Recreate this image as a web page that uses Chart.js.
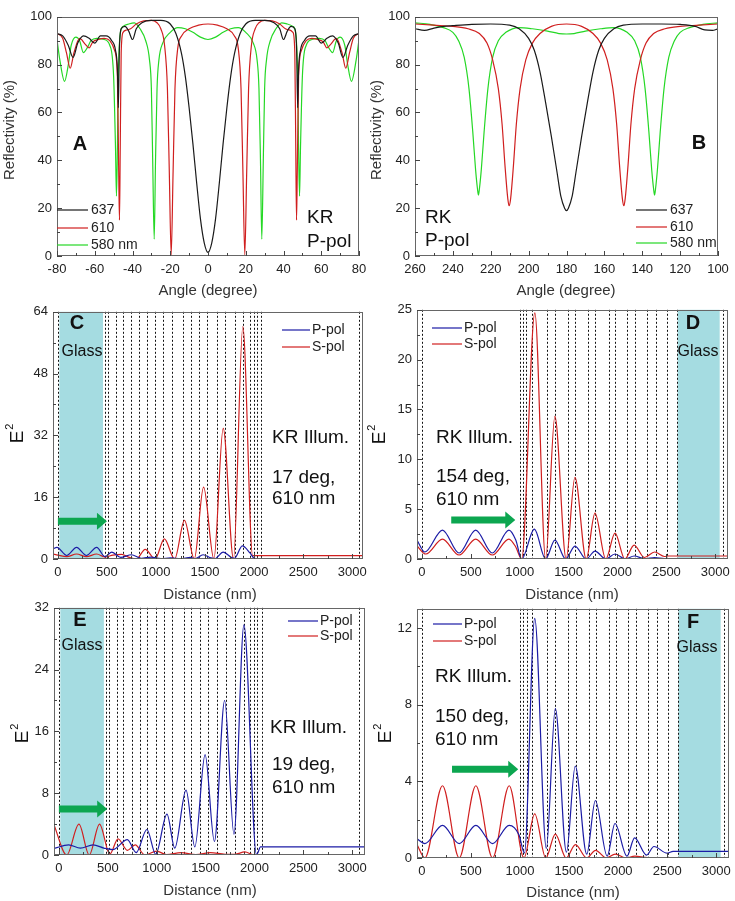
<!DOCTYPE html>
<html>
<head>
<meta charset="utf-8">
<script src="https://cdn.jsdelivr.net/npm/chart.js@4.4.0/dist/chart.umd.min.js"></script>
<style>
  html, body { margin: 0; padding: 0; background: #fff; }
  #wrap { position: relative; width: 735px; height: 901px; overflow: hidden; background: #fff; }
  canvas { position: absolute; }
</style>
</head>
<body>
<div id="wrap"></div>
<script>
// ---- tick labels ----
const aXTicks = [-80, -60, -40, -20, 0, 20, 40, 60, 80];
const bXTicks = [100, 120, 140, 160, 180, 200, 220, 240, 260];
const pctTicks = [0, 20, 40, 60, 80, 100];
const distTicks = [0, 500, 1000, 1500, 2000, 2500, 3000];
const cYTicks = [0, 16, 32, 48, 64];
const dYTicks = [0, 5, 10, 15, 20, 25];
const eYTicks = [0, 8, 16, 24, 32];
const fYTicks = [0, 4, 8, 12];

// ---- layer boundaries (nm) and glass ----
const krLayers = [0, 480, 510, 595, 660, 750, 830, 905, 990, 1075, 1160, 1280, 1355, 1440, 1520, 1620, 1705, 1805, 1890, 1955, 1995, 2030, 2075, 3065];
const rkLayers = [0, 999, 1030, 1067, 1125, 1278, 1357, 1493, 1568, 1698, 1773, 1909, 1977, 2097, 2182, 2301, 2393, 2506, 2608, 3075];
const krGlass = [15, 460];
const rkGlass = [2615, 3045];

// ---- A: KR reflectivity vs angle ----
const a637x = [-80,-77,-74,-71.5,-69,-66,-63,-60,-57,-54,-51,-49,-48,-47.5,-47,-46,-44,-42,-40,-38,-35,-30,-25,-20,-17,-14,-12,-10,-8,-6,-4,-2,0,
  2,4,6,8,10,12,14,17,20,25,30,35,38,40,42,44,46,47,47.5,48,49,51,54,57,60,63,66,69,71.5,74,77,80];
const a637y = [93,92,88,83,89,92,91,89,92,92,90,86,78,62,85,95,96,94,90.5,95,97.5,98.5,98.5,97,93,84.5,75,62,47,30.5,15.5,5.5,1.5,
  5.5,15.5,30.5,47,62,75,84.5,93,97,98.5,98.5,97.5,95,90.5,94,96,95,85,62,78,86,90,92,92,89,91,92,89,83,88,92,93];
const a610x = [-80,-77,-75,-73,-71,-68,-65,-63,-61,-58,-55,-52,-49.5,-48,-47.3,-46.9,-46.5,-46,-45,-43,-41,-38,-34,-30,-27,-25,-23,-21.5,-20.5,-19.5,-18.5,-17.5,-16,-14,-10,-5,0,
  5,10,14,16,17.5,18.5,19.5,20.5,21.5,23,25,27,30,34,38,41,43,45,46,46.5,46.9,47.3,48,49.5,52,55,58,61,63,65,68,71,73,75,77,80];
const a610y = [93,91,85,78.5,85,91,88.5,87,89.5,90.5,91,90,86,75,35,15,45,85,93.5,94.5,95,97,98.3,98.5,97.5,95,88,70,35,0.5,35,70,87,92,95,96.5,97,
  96.5,95,92,87,70,35,0.5,35,70,88,95,97.5,98.5,98.3,97,95,94.5,93.5,85,45,15,35,75,86,90,91,90.5,89.5,87,88.5,91,85,78.5,85,91,93];
const a580x = [-80,-78.5,-76,-74,-72.5,-70,-68,-66,-64,-62,-59,-55,-52,-50,-49,-48.5,-48,-47.5,-46.5,-45,-42,-39,-36,-33,-31,-30,-29.3,-28.5,-27.8,-27,-26,-24,-20,-16,-12,-8,-4,0,
  4,8,12,16,20,24,26,27,27.8,28.5,29.3,30,31,33,36,39,42,45,46.5,47.5,48,48.5,49,50,52,55,59,62,64,66,68,70,72.5,74,76,78.5,80];
const a580y = [90.5,82,73,80,88,91.5,90,85,87,90,91,90.5,88,75,45,25,45,75,93,96,97,97.5,95,90,82,70,40,7,40,70,82,89,93.5,95.5,95,93.5,91.5,90.5,
  91.5,93.5,95,95.5,93.5,89,82,70,40,7,40,70,82,90,95,97.5,97,96,93,75,45,25,45,75,88,90.5,91,90,87,85,90,91.5,88,80,73,82,90.5];

// ---- B: RK reflectivity vs angle ----
const b637x = [260,255,250,245,240,230,220,210,205,200,197,194,191,188,185,183,181,180,179,177,175,172,169,166,163,160,155,150,140,130,120,112,107,103,100];
const b637y = [95,94.3,95.3,96,96.3,96.8,97,96.5,95,91,86,77,64,50,35,25,20,19,20,25,35,50,64,77,86,91,95,96.5,97,97,96.8,96,94.5,94.3,95];
const b610x = [260,250,240,232,226,222,219,216,214,212.5,211,210.3,209.5,208,206.5,204.5,201.5,198,194,188,180,172,166,162,158.5,155.5,153.5,152,150.5,149.7,149,147.5,146,144,141,138,134,128,120,110,100];
const b610y = [97,96.5,96,95,93,89,82,70,55,38,24,21,24,38,55,70,82,89,93,96,97,96,93,89,82,70,55,38,24,21,24,38,55,70,82,89,93,95,96,96.5,97];
const b580x = [260,252,245,240,237,234,231.5,229.5,228,227,226.5,226,225,223.5,221.5,219,216,212,205,198,190,184,180,176,170,162,155,148,144,141,138.5,136.5,135,134,133.5,133,132,130.5,128.5,126,123,120,115,108,100];
const b580y = [97.5,96.8,95.5,93.5,90,83,70,52,36,28,25.5,28,36,52,70,83,90,93.5,95.5,95,94,93,92.8,93,94,95,95.5,93.5,90,83,70,52,36,28,25.5,28,36,52,70,83,90,93.5,95.5,96.8,97.5];

// ---- C: KR 17 deg ----
const cPx = [-50,-10,90,190,290,395,480,550,640,750,850,950,1050,1150,1250,1350,1400,1480,1560,1600,1685,1770,1800,1880,1960,2000,2040,3130];
const cPy = [2.6,3.0,0.9,3.0,0.9,3.0,0.6,1.8,0.4,1.1,0.2,0.5,0.1,0.3,0.05,0.4,0.1,1.1,0.3,0.1,1.8,0.4,0.2,3.4,1.5,0.2,0.1,0.1];
const cSx = [-50,0,90,190,290,395,480,560,650,720,800,890,990,1085,1190,1290,1390,1485,1590,1685,1790,1885,1985,3130];
const cSy = [1.3,1.0,0.6,1.3,0.6,1.3,0.5,1.0,1.2,0.5,0.0,2.5,0.0,5.2,0.0,10.0,0.0,18.6,0.0,33.8,0.0,60.2,0.85,0.85];

// ---- D: RK 154 deg ----
const dPx = [-50,30,210,380,550,720,890,960,1020,1150,1265,1360,1470,1565,1680,1770,1880,1975,2080,2170,2280,2380,2480,2520,3130];
const dPy = [1.9,0.7,2.9,0.6,2.9,0.6,2.9,1.9,0.0,3.0,0.0,1.9,0.0,1.3,0.0,0.8,0.0,0.5,0.0,0.3,0.02,0.15,0.05,0.05,0.05];
const dSx = [-50,40,210,380,550,720,890,960,1020,1155,1265,1360,1475,1565,1680,1770,1880,1975,2075,2170,2275,2380,2480,2520,3130];
const dSy = [1.3,0.5,2.0,0.4,2.0,0.4,2.0,1.2,0.0,24.7,0.0,14.3,0.0,8.2,0.0,4.6,0.0,2.6,0.0,1.4,0.15,0.7,0.25,0.3,0.3];

// ---- E: KR 19 deg ----
const ePx = [-50,100,220,350,460,550,700,790,900,990,1105,1185,1300,1390,1495,1590,1695,1790,1892,2020,2035,2060,3130];
const ePy = [0.85,1.3,0.9,1.3,0.9,0.7,2.0,0.3,3.3,0.1,5.3,0.9,8.4,1.05,13.0,1.75,20.0,2.7,29.8,0.1,0.3,1.05,1.05];
const eSx = [-50,80,205,310,416,520,605,700,780,880,1000,1100,1250,1400,1550,1700,1800,1900,2000,3130];
const eSy = [3.9,0.0,4.0,0.0,4.0,0.1,2.1,0.6,1.3,0.0,0.5,0.05,0.3,0.05,0.3,0.1,0.1,0.4,0.0,0.0];

// ---- F: RK 150 deg ----
const fPx = [-50,30,210,380,550,720,890,990,1045,1150,1268,1360,1473,1563,1680,1768,1888,1968,2090,2168,2290,2365,2500,2560,3130];
const fPy = [1.0,0.75,1.7,0.75,1.7,0.75,1.7,1.2,0.26,12.5,0.5,7.8,0.3,4.8,0.2,3.0,0.1,1.8,0.1,1.05,0.15,0.6,0.25,0.35,0.35];
const fSx = [-50,30,210,380,550,720,890,1040,1150,1262,1360,1470,1565,1680,1770,1880,1970,2080,2170,2300,3130];
const fSy = [0.7,0.0,3.77,0.0,3.77,0.0,3.77,0.0,2.3,0.0,1.25,0.0,0.7,0.0,0.4,0.0,0.2,0.0,0.1,0.02,0.02];

const FONT = "'Liberation Sans', Arial, sans-serif";
const BLACK = '#1a1a1a', RED = '#d01f1f', GREEN = '#25d825', BLUE = '#1c1ca6';
const GLASS = '#a5dce1', ARROW = '#0ca650';

function pts(xs, ys) { return xs.map((v, i) => ({ x: v, y: ys[i] })); }

function curve(label, xs, ys, color) {
  return {
    label, data: pts(xs, ys), borderColor: color, borderWidth: 1.2,
    pointRadius: 0, fill: false, cubicInterpolationMode: 'monotone'
  };
}

function axis(min, max, ticks, isX, reverse) {
  return {
    type: 'linear', min, max, reverse: !!reverse,
    grid: { display: false, drawTicks: false },
    border: { display: false },
    ticks: {
      font: { family: FONT, size: 13 }, color: '#222', padding: isX ? 6 : 5,
      autoSkip: false, maxRotation: 0,
      callback: v => String(v)
    },
    afterBuildTicks: s => { s.ticks = ticks.map(v => ({ value: v })); },
    afterFit: s => { if (isX) s.height = 46; else s.width = 57; }
  };
}

function minors(ticks, min, max) {
  const t = ticks.slice().sort((p, q) => p - q), out = [];
  const step = t[1] - t[0];
  for (let i = 0; i < t.length - 1; i++) out.push((t[i] + t[i + 1]) / 2);
  if (t[0] - step / 2 >= min) out.push(t[0] - step / 2);
  if (t[t.length - 1] + step / 2 <= max) out.push(t[t.length - 1] + step / 2);
  return out;
}

function decor(spec) {
  const ox = spec.off[0], oy = spec.off[1];
  return {
    id: 'decor',
    beforeDatasetsDraw(chart) {
      const { ctx, chartArea: a, scales: { x } } = chart;
      ctx.save();
      if (spec.glass) {
        const g0 = x.getPixelForValue(spec.glass[0]), g1 = x.getPixelForValue(spec.glass[1]);
        ctx.fillStyle = GLASS;
        ctx.fillRect(Math.min(g0, g1), a.top, Math.abs(g1 - g0), a.bottom - a.top);
      }
      if (spec.layers) {
        ctx.strokeStyle = '#111';
        ctx.lineWidth = 1;
        ctx.setLineDash([2, 2]);
        spec.layers.forEach(v => {
          const p = Math.round(x.getPixelForValue(v)) + 0.5;
          ctx.beginPath(); ctx.moveTo(p, a.top); ctx.lineTo(p, a.bottom); ctx.stroke();
        });
      }
      ctx.restore();
    },
    afterDraw(chart) {
      const { ctx, chartArea: a, scales: { x, y } } = chart;
      ctx.save();
      // frame
      ctx.strokeStyle = '#666';
      ctx.lineWidth = 1;
      ctx.strokeRect(Math.round(a.left) + 0.5, Math.round(a.top) + 0.5, Math.round(a.right - a.left) - 1, Math.round(a.bottom - a.top) - 1);
      // inward ticks
      ctx.strokeStyle = '#444';
      const xt = x.ticks.map(t => t.value), yt = y.ticks.map(t => t.value);
      const tickX = (v, len) => { const p = Math.round(x.getPixelForValue(v)) + 0.5; ctx.beginPath(); ctx.moveTo(p, a.bottom); ctx.lineTo(p, a.bottom - len); ctx.stroke(); };
      const tickY = (v, len) => { const p = Math.round(y.getPixelForValue(v)) + 0.5; ctx.beginPath(); ctx.moveTo(a.left, p); ctx.lineTo(a.left + len, p); ctx.stroke(); };
      xt.forEach(v => tickX(v, 5));
      minors(xt, x.min, x.max).forEach(v => tickX(v, 3));
      yt.forEach(v => tickY(v, 5));
      minors(yt, y.min, y.max).forEach(v => tickY(v, 3));

      // arrow
      if (spec.arrow) {
        const [v0, v1, vy] = spec.arrow;
        const x0 = x.getPixelForValue(v0), x1 = x.getPixelForValue(v1), yy = y.getPixelForValue(vy);
        ctx.fillStyle = ARROW;
        ctx.beginPath();
        ctx.moveTo(x0, yy - 3.5); ctx.lineTo(x1 - 10, yy - 3.5); ctx.lineTo(x1 - 10, yy - 8.5);
        ctx.lineTo(x1, yy); ctx.lineTo(x1 - 10, yy + 8.5); ctx.lineTo(x1 - 10, yy + 3.5);
        ctx.lineTo(x0, yy + 3.5); ctx.closePath(); ctx.fill();
      }

      ctx.textBaseline = 'middle';
      // x title
      ctx.fillStyle = '#333';
      ctx.font = '15px ' + FONT;
      ctx.textAlign = 'center';
      ctx.fillText(spec.xTitle[0], spec.xTitle[1] - ox, spec.xTitle[2] - oy);
      // y title
      ctx.save();
      ctx.translate(spec.yTitle[1] - ox, spec.yTitle[2] - oy);
      ctx.rotate(-Math.PI / 2);
      if (spec.yTitle[0] === 'E2') {
        ctx.fillStyle = '#111';
        ctx.font = '19px ' + FONT;
        ctx.textAlign = 'center';
        const w = ctx.measureText('E').width;
        ctx.fillText('E', 0, 0);
        ctx.font = '11px ' + FONT;
        ctx.textAlign = 'left';
        ctx.fillText('2', w / 2 + 1, -8);
      } else {
        ctx.font = '15px ' + FONT;
        ctx.textAlign = 'center';
        ctx.fillText(spec.yTitle[0], 0, 0);
      }
      ctx.restore();

      // legend
      if (spec.legend) {
        const L = spec.legend;
        ctx.font = '14px ' + FONT;
        ctx.textAlign = 'left';
        L.items.forEach((it, i) => {
          const yy = L.ys[i] - oy;
          ctx.strokeStyle = it[1];
          ctx.lineWidth = 1.2;
          ctx.beginPath(); ctx.moveTo(L.x0 - ox, yy); ctx.lineTo(L.x1 - ox, yy); ctx.stroke();
          ctx.fillStyle = '#222';
          ctx.fillText(it[0], L.tx - ox, yy);
        });
      }

      // text labels
      (spec.texts || []).forEach(t => {
        ctx.font = (t.bold ? 'bold ' : '') + t.size + 'px ' + FONT;
        ctx.textAlign = t.align || 'left';
        ctx.fillStyle = '#111';
        ctx.fillText(t.t, t.x - ox, t.y - oy);
      });
      ctx.restore();
    }
  };
}

const wrap = document.getElementById('wrap');

function panel(spec) {
  const left = spec.box[0] - 57, top = spec.box[1] - 9;
  const w = spec.box[2] - left + 14, h = spec.box[3] - top + 46;
  const cv = document.createElement('canvas');
  cv.width = w; cv.height = h;
  cv.style.left = left + 'px'; cv.style.top = top + 'px';
  cv.style.width = w + 'px'; cv.style.height = h + 'px';
  wrap.appendChild(cv);
  spec.off = [left, top];
  new Chart(cv, {
    type: 'line',
    data: { datasets: spec.series },
    options: {
      responsive: false,
      animation: false,
      devicePixelRatio: 1,
      events: [],
      layout: { padding: { left: 0, top: 9, right: 14, bottom: 0 } },
      plugins: { legend: { display: false }, tooltip: { enabled: false } },
      scales: {
        x: axis(spec.x[0], spec.x[1], spec.x[2], true, spec.x[3]),
        y: axis(spec.y[0], spec.y[1], spec.y[2], false)
      }
    },
    plugins: [decor(spec)]
  });
}

// A
panel({
  box: [57, 13, 359, 256],
  x: [-80, 80, aXTicks], y: [0, 100, pctTicks],
  series: [curve('637', a637x, a637y, BLACK), curve('610', a610x, a610y, RED), curve('580 nm', a580x, a580y, GREEN)],
  xTitle: ['Angle (degree)', 208, 291], yTitle: ['Reflectivity (%)', 10, 130],
  legend: { items: [['637', BLACK], ['610', RED], ['580 nm', GREEN]], x0: 57, x1: 88, tx: 91, ys: [210, 228, 245] },
  texts: [
    { t: 'A', x: 80, y: 144, size: 20, bold: true, align: 'center' },
    { t: 'KR', x: 307, y: 218, size: 19 },
    { t: 'P-pol', x: 307, y: 242, size: 19 }
  ]
});

// B
panel({
  box: [415, 13, 718, 256],
  x: [100, 260, bXTicks, true], y: [0, 100, pctTicks],
  series: [curve('637', b637x, b637y, BLACK), curve('610', b610x, b610y, RED), curve('580 nm', b580x, b580y, GREEN)],
  xTitle: ['Angle (degree)', 566, 291], yTitle: ['Reflectivity (%)', 377, 130],
  legend: { items: [['637', BLACK], ['610', RED], ['580 nm', GREEN]], x0: 636, x1: 667, tx: 670, ys: [210, 227, 243] },
  texts: [
    { t: 'B', x: 699, y: 143, size: 20, bold: true, align: 'center' },
    { t: 'RK', x: 425, y: 218, size: 19 },
    { t: 'P-pol', x: 425, y: 241, size: 19 }
  ]
});

// C
panel({
  box: [53, 308, 363, 559],
  x: [-50, 3110, distTicks], y: [0, 64, cYTicks],
  series: [curve('P-pol', cPx, cPy, BLUE), curve('S-pol', cSx, cSy, RED)],
  glass: krGlass, layers: krLayers, arrow: [0, 500, 9.8],
  xTitle: ['Distance (nm)', 210, 595], yTitle: ['E2', 18, 437],
  legend: { items: [['P-pol', BLUE], ['S-pol', RED]], x0: 282, x1: 310, tx: 312, ys: [330, 347] },
  texts: [
    { t: 'C', x: 77, y: 323, size: 20, bold: true, align: 'center' },
    { t: 'Glass', x: 82, y: 352, size: 16, align: 'center' },
    { t: 'KR Illum.', x: 272, y: 438, size: 19 },
    { t: '17 deg,', x: 272, y: 478, size: 19 },
    { t: '610 nm', x: 272, y: 499, size: 19 }
  ]
});

// D
panel({
  box: [417, 306, 728, 559],
  x: [-50, 3130, distTicks], y: [0, 25, dYTicks],
  series: [curve('P-pol', dPx, dPy, BLUE), curve('S-pol', dSx, dSy, RED)],
  glass: rkGlass, layers: rkLayers, arrow: [300, 955, 3.9],
  xTitle: ['Distance (nm)', 572, 595], yTitle: ['E2', 380, 438],
  legend: { items: [['P-pol', BLUE], ['S-pol', RED]], x0: 432, x1: 462, tx: 464, ys: [328, 344] },
  texts: [
    { t: 'D', x: 693, y: 323, size: 20, bold: true, align: 'center' },
    { t: 'Glass', x: 698, y: 352, size: 16, align: 'center' },
    { t: 'RK Illum.', x: 436, y: 438, size: 19 },
    { t: '154 deg,', x: 436, y: 477, size: 19 },
    { t: '610 nm', x: 436, y: 500, size: 19 }
  ]
});

// E
panel({
  box: [54, 604, 365, 855],
  x: [-50, 3130, distTicks], y: [0, 32, eYTicks],
  series: [curve('P-pol', ePx, ePy, BLUE), curve('S-pol', eSx, eSy, RED)],
  glass: krGlass, layers: krLayers, arrow: [0, 494, 5.95],
  xTitle: ['Distance (nm)', 210, 891], yTitle: ['E2', 23, 737],
  legend: { items: [['P-pol', BLUE], ['S-pol', RED]], x0: 288, x1: 318, tx: 320, ys: [621, 636] },
  texts: [
    { t: 'E', x: 80, y: 620, size: 20, bold: true, align: 'center' },
    { t: 'Glass', x: 82, y: 646, size: 16, align: 'center' },
    { t: 'KR Illum.', x: 270, y: 728, size: 19 },
    { t: '19 deg,', x: 272, y: 765, size: 19 },
    { t: '610 nm', x: 272, y: 788, size: 19 }
  ]
});

// F
panel({
  box: [417, 605, 729, 858],
  x: [-50, 3130, distTicks], y: [0, 13, fYTicks],
  series: [curve('P-pol', fPx, fPy, BLUE), curve('S-pol', fSx, fSy, RED)],
  glass: rkGlass, layers: rkLayers, arrow: [307, 982, 4.63],
  xTitle: ['Distance (nm)', 573, 893], yTitle: ['E2', 386, 737],
  legend: { items: [['P-pol', BLUE], ['S-pol', RED]], x0: 433, x1: 462, tx: 464, ys: [624, 641] },
  texts: [
    { t: 'F', x: 693, y: 622, size: 20, bold: true, align: 'center' },
    { t: 'Glass', x: 697, y: 648, size: 16, align: 'center' },
    { t: 'RK Illum.', x: 435, y: 677, size: 19 },
    { t: '150 deg,', x: 435, y: 717, size: 19 },
    { t: '610 nm', x: 435, y: 740, size: 19 }
  ]
});
</script>
</body>
</html>
